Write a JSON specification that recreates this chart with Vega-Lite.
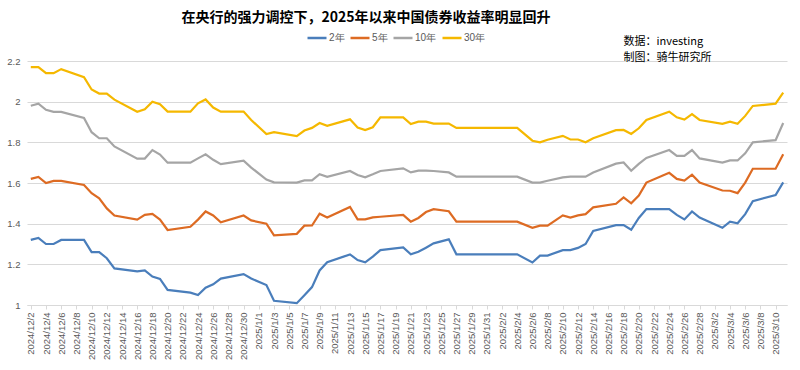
{
  "$schema": "https://vega.github.io/schema/vega-lite/v6.json",
  "width": 760,
  "height": 244,
  "autosize": {"type": "none"},
  "padding": {"left": 27, "top": 61, "right": 13, "bottom": 65},
  "background": "#ffffff",
  "title": {
    "text": "在央行的强力调控下，2025年以来中国债券收益率明显回升",
    "font": "Noto Sans CJK SC",
    "fontSize": 14,
    "fontWeight": "bold",
    "color": "#000000",
    "anchor": "middle",
    "dx": -41,
    "offset": 2
  },
  "config": {
    "view": {"stroke": null},
    "font": "Liberation Sans",
    "axisX": {"labelOverlap": false, "labelBound": false}
  },
  "data": {
    "values": [
      {"date": "2024-12-02", "2年": 1.32, "5年": 1.62, "10年": 1.98, "30年": 2.17},
      {"date": "2024-12-03", "2年": 1.33, "5年": 1.63, "10年": 1.99, "30年": 2.17},
      {"date": "2024-12-04", "2年": 1.30, "5年": 1.60, "10年": 1.96, "30年": 2.14},
      {"date": "2024-12-05", "2年": 1.30, "5年": 1.61, "10年": 1.95, "30年": 2.14},
      {"date": "2024-12-06", "2年": 1.32, "5年": 1.61, "10年": 1.95, "30年": 2.16},
      {"date": "2024-12-09", "2年": 1.32, "5年": 1.59, "10年": 1.92, "30年": 2.12},
      {"date": "2024-12-10", "2年": 1.26, "5年": 1.55, "10年": 1.85, "30年": 2.06},
      {"date": "2024-12-11", "2年": 1.26, "5年": 1.525, "10年": 1.82, "30年": 2.04},
      {"date": "2024-12-12", "2年": 1.23, "5年": 1.475, "10年": 1.82, "30年": 2.04},
      {"date": "2024-12-13", "2年": 1.18, "5年": 1.44, "10年": 1.78, "30年": 2.01},
      {"date": "2024-12-16", "2年": 1.165, "5年": 1.42, "10年": 1.72, "30年": 1.95},
      {"date": "2024-12-17", "2年": 1.17, "5年": 1.443, "10年": 1.72, "30年": 1.962},
      {"date": "2024-12-18", "2年": 1.14, "5年": 1.448, "10年": 1.762, "30年": 2.0},
      {"date": "2024-12-19", "2年": 1.128, "5年": 1.42, "10年": 1.74, "30年": 1.988},
      {"date": "2024-12-20", "2年": 1.074, "5年": 1.369, "10年": 1.70, "30年": 1.951},
      {"date": "2024-12-23", "2年": 1.061, "5年": 1.385, "10年": 1.70, "30年": 1.951},
      {"date": "2024-12-24", "2年": 1.049, "5年": 1.42, "10年": 1.721, "30年": 1.992},
      {"date": "2024-12-25", "2年": 1.085, "5年": 1.46, "10年": 1.741, "30年": 2.011},
      {"date": "2024-12-26", "2年": 1.102, "5年": 1.44, "10年": 1.714, "30年": 1.971},
      {"date": "2024-12-27", "2年": 1.13, "5年": 1.407, "10年": 1.693, "30年": 1.951},
      {"date": "2024-12-30", "2年": 1.152, "5年": 1.44, "10年": 1.71, "30年": 1.951},
      {"date": "2024-12-31", "2年": 1.13, "5年": 1.416, "10年": 1.676, "30年": 1.91},
      {"date": "2025-01-02", "2年": 1.098, "5年": 1.40, "10年": 1.617, "30年": 1.841},
      {"date": "2025-01-03", "2年": 1.021, "5年": 1.342, "10年": 1.603, "30年": 1.85},
      {"date": "2025-01-06", "2年": 1.009, "5年": 1.35, "10年": 1.602, "30年": 1.831},
      {"date": "2025-01-07", "2年": 1.048, "5年": 1.39, "10年": 1.613, "30年": 1.858},
      {"date": "2025-01-08", "2年": 1.088, "5年": 1.391, "10年": 1.613, "30年": 1.871},
      {"date": "2025-01-09", "2年": 1.17, "5年": 1.449, "10年": 1.643, "30年": 1.895},
      {"date": "2025-01-10", "2年": 1.21, "5年": 1.43, "10年": 1.63, "30年": 1.881},
      {"date": "2025-01-13", "2年": 1.249, "5年": 1.482, "10年": 1.659, "30年": 1.913},
      {"date": "2025-01-14", "2年": 1.221, "5年": 1.421, "10年": 1.639, "30年": 1.873},
      {"date": "2025-01-15", "2年": 1.21, "5年": 1.421, "10年": 1.628, "30年": 1.86},
      {"date": "2025-01-16", "2年": 1.238, "5年": 1.431, "10年": 1.643, "30年": 1.874},
      {"date": "2025-01-17", "2年": 1.27, "5年": 1.434, "10年": 1.659, "30年": 1.923},
      {"date": "2025-01-20", "2年": 1.283, "5年": 1.443, "10年": 1.672, "30年": 1.923},
      {"date": "2025-01-21", "2年": 1.249, "5年": 1.41, "10年": 1.652, "30年": 1.89},
      {"date": "2025-01-22", "2年": 1.262, "5年": 1.428, "10年": 1.661, "30年": 1.902},
      {"date": "2025-01-23", "2年": 1.282, "5年": 1.457, "10年": 1.661, "30年": 1.902},
      {"date": "2025-01-24", "2年": 1.303, "5年": 1.471, "10年": 1.659, "30年": 1.892},
      {"date": "2025-01-26", "2年": 1.323, "5年": 1.461, "10年": 1.652, "30年": 1.892},
      {"date": "2025-01-27", "2年": 1.249, "5年": 1.41, "10年": 1.631, "30年": 1.871},
      {"date": "2025-02-04", "2年": 1.249, "5年": 1.41, "10年": 1.631, "30年": 1.871},
      {"date": "2025-02-06", "2年": 1.209, "5年": 1.38, "10年": 1.602, "30年": 1.808},
      {"date": "2025-02-07", "2年": 1.243, "5年": 1.39, "10年": 1.602, "30年": 1.80},
      {"date": "2025-02-08", "2年": 1.243, "5年": 1.39, "10年": 1.611, "30年": 1.813},
      {"date": "2025-02-10", "2年": 1.27, "5年": 1.441, "10年": 1.628, "30年": 1.832},
      {"date": "2025-02-11", "2年": 1.27, "5年": 1.43, "10年": 1.631, "30年": 1.814},
      {"date": "2025-02-12", "2年": 1.281, "5年": 1.441, "10年": 1.631, "30年": 1.814},
      {"date": "2025-02-13", "2年": 1.30, "5年": 1.447, "10年": 1.631, "30年": 1.80},
      {"date": "2025-02-14", "2年": 1.364, "5年": 1.48, "10年": 1.652, "30年": 1.82},
      {"date": "2025-02-17", "2年": 1.393, "5年": 1.498, "10年": 1.695, "30年": 1.86},
      {"date": "2025-02-18", "2年": 1.393, "5年": 1.529, "10年": 1.701, "30年": 1.861},
      {"date": "2025-02-19", "2年": 1.37, "5年": 1.50, "10年": 1.66, "30年": 1.841},
      {"date": "2025-02-20", "2年": 1.428, "5年": 1.538, "10年": 1.694, "30年": 1.869},
      {"date": "2025-02-21", "2年": 1.472, "5年": 1.602, "10年": 1.723, "30年": 1.91},
      {"date": "2025-02-24", "2年": 1.472, "5年": 1.65, "10年": 1.762, "30年": 1.951},
      {"date": "2025-02-25", "2年": 1.443, "5年": 1.62, "10年": 1.733, "30年": 1.923},
      {"date": "2025-02-26", "2年": 1.421, "5年": 1.612, "10年": 1.733, "30年": 1.912},
      {"date": "2025-02-27", "2年": 1.46, "5年": 1.641, "10年": 1.762, "30年": 1.939},
      {"date": "2025-02-28", "2年": 1.43, "5年": 1.602, "10年": 1.721, "30年": 1.91},
      {"date": "2025-03-03", "2年": 1.38, "5年": 1.563, "10年": 1.70, "30年": 1.891},
      {"date": "2025-03-04", "2年": 1.41, "5年": 1.562, "10年": 1.711, "30年": 1.902},
      {"date": "2025-03-05", "2年": 1.402, "5年": 1.55, "10年": 1.711, "30年": 1.891},
      {"date": "2025-03-06", "2年": 1.447, "5年": 1.602, "10年": 1.746, "30年": 1.93},
      {"date": "2025-03-07", "2年": 1.511, "5年": 1.67, "10年": 1.80, "30年": 1.979},
      {"date": "2025-03-10", "2年": 1.541, "5年": 1.67, "10年": 1.811, "30年": 1.99},
      {"date": "2025-03-11", "2年": 1.603, "5年": 1.741, "10年": 1.895, "30年": 2.044}
    ]
  },
  "layer": [
    {
      "transform": [{"fold": ["2年", "5年", "10年", "30年"], "as": ["series", "value"]}],
      "mark": {"type": "line", "strokeWidth": 2.2, "interpolate": "linear"},
      "encoding": {
        "x": {
          "field": "date",
          "type": "temporal",
          "scale": {
            "type": "utc",
            "domain": [
              {"year": 2024, "month": 12, "date": 1, "hours": 12, "utc": true},
              {"year": 2025, "month": 3, "date": 11, "hours": 12, "utc": true}
            ]
          },
          "axis": {
            "title": null,
            "format": "%Y/%-m/%-d",
            "labelAngle": -90,
            "labelFontSize": 9.5,
            "labelColor": "#595959",
            "labelPadding": 3,
            "labelOverlap": false,
            "labelFlush": false,
            "tickCount": 200,
            "domainColor": "#D9D9D9",
            "tickColor": "#D9D9D9",
            "tickSize": 4,
            "grid": false,
            "values": [
              {"year": 2024, "month": 12, "date": 2, "utc": true},
              {"year": 2024, "month": 12, "date": 4, "utc": true},
              {"year": 2024, "month": 12, "date": 6, "utc": true},
              {"year": 2024, "month": 12, "date": 8, "utc": true},
              {"year": 2024, "month": 12, "date": 10, "utc": true},
              {"year": 2024, "month": 12, "date": 12, "utc": true},
              {"year": 2024, "month": 12, "date": 14, "utc": true},
              {"year": 2024, "month": 12, "date": 16, "utc": true},
              {"year": 2024, "month": 12, "date": 18, "utc": true},
              {"year": 2024, "month": 12, "date": 20, "utc": true},
              {"year": 2024, "month": 12, "date": 22, "utc": true},
              {"year": 2024, "month": 12, "date": 24, "utc": true},
              {"year": 2024, "month": 12, "date": 26, "utc": true},
              {"year": 2024, "month": 12, "date": 28, "utc": true},
              {"year": 2024, "month": 12, "date": 30, "utc": true},
              {"year": 2025, "month": 1, "date": 1, "utc": true},
              {"year": 2025, "month": 1, "date": 3, "utc": true},
              {"year": 2025, "month": 1, "date": 5, "utc": true},
              {"year": 2025, "month": 1, "date": 7, "utc": true},
              {"year": 2025, "month": 1, "date": 9, "utc": true},
              {"year": 2025, "month": 1, "date": 11, "utc": true},
              {"year": 2025, "month": 1, "date": 13, "utc": true},
              {"year": 2025, "month": 1, "date": 15, "utc": true},
              {"year": 2025, "month": 1, "date": 17, "utc": true},
              {"year": 2025, "month": 1, "date": 19, "utc": true},
              {"year": 2025, "month": 1, "date": 21, "utc": true},
              {"year": 2025, "month": 1, "date": 23, "utc": true},
              {"year": 2025, "month": 1, "date": 25, "utc": true},
              {"year": 2025, "month": 1, "date": 27, "utc": true},
              {"year": 2025, "month": 1, "date": 29, "utc": true},
              {"year": 2025, "month": 1, "date": 31, "utc": true},
              {"year": 2025, "month": 2, "date": 2, "utc": true},
              {"year": 2025, "month": 2, "date": 4, "utc": true},
              {"year": 2025, "month": 2, "date": 6, "utc": true},
              {"year": 2025, "month": 2, "date": 8, "utc": true},
              {"year": 2025, "month": 2, "date": 10, "utc": true},
              {"year": 2025, "month": 2, "date": 12, "utc": true},
              {"year": 2025, "month": 2, "date": 14, "utc": true},
              {"year": 2025, "month": 2, "date": 16, "utc": true},
              {"year": 2025, "month": 2, "date": 18, "utc": true},
              {"year": 2025, "month": 2, "date": 20, "utc": true},
              {"year": 2025, "month": 2, "date": 22, "utc": true},
              {"year": 2025, "month": 2, "date": 24, "utc": true},
              {"year": 2025, "month": 2, "date": 26, "utc": true},
              {"year": 2025, "month": 2, "date": 28, "utc": true},
              {"year": 2025, "month": 3, "date": 2, "utc": true},
              {"year": 2025, "month": 3, "date": 4, "utc": true},
              {"year": 2025, "month": 3, "date": 6, "utc": true},
              {"year": 2025, "month": 3, "date": 8, "utc": true},
              {"year": 2025, "month": 3, "date": 10, "utc": true}
            ]
          }
        },
        "y": {
          "field": "value",
          "type": "quantitative",
          "scale": {"domain": [1, 2.2], "nice": false, "zero": false},
          "axis": {
            "title": null,
            "values": [1, 1.2, 1.4, 1.6, 1.8, 2, 2.2],
            "format": "~g",
            "labelFontSize": 9.5,
            "labelColor": "#595959",
            "labelPadding": 7,
            "domain": false,
            "ticks": false,
            "grid": true,
            "gridColor": "#D9D9D9",
            "gridWidth": 1
          }
        },
        "color": {
          "field": "series",
          "type": "nominal",
          "scale": {
            "domain": ["2年", "5年", "10年", "30年"],
            "range": ["#4A7EBB", "#DD6B23", "#A5A5A5", "#F5B800"]
          },
          "legend": {
            "title": null,
            "orient": "none",
            "legendX": 279,
            "legendY": -34,
            "direction": "horizontal",
            "gridAlign": "none",
            "symbolType": "stroke",
            "symbolSize": 361,
            "symbolStrokeWidth": 2.5,
            "labelFontSize": 10,
            "labelColor": "#595959",
            "labelFont": "Liberation Sans",
            "labelOffset": 1,
            "columnPadding": 0
          }
        }
      }
    },
    {
      "data": {"values": [{}]},
      "mark": {
        "type": "text",
        "align": "left",
        "baseline": "middle",
        "lineBreak": "\n",
        "lineHeight": 16,
        "fontSize": 11,
        "font": "Noto Sans CJK SC",
        "color": "#000000"
      },
      "encoding": {
        "x": {"datum": {"year": 2025, "month": 2, "date": 18, "utc": true}, "type": "temporal"},
        "y": {"datum": 2.294, "type": "quantitative"},
        "text": {"value": "数据：investing\n制图：骑牛研究所"}
      }
    }
  ]
}
